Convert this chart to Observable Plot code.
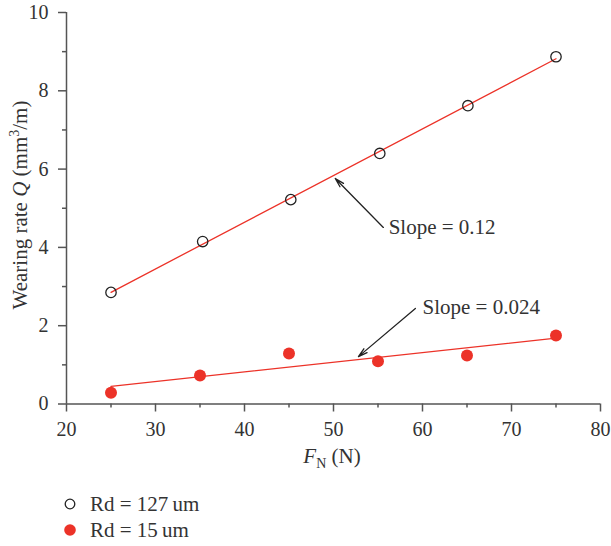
<!DOCTYPE html>
<html>
<head>
<meta charset="utf-8">
<script src="https://cdn.jsdelivr.net/npm/d3@7"></script>
<script src="https://cdn.jsdelivr.net/npm/@observablehq/plot@0.6"></script>
<style>
  body { margin: 0; background: #fff; font-family: "Liberation Serif", serif; }
  #chart { position: relative; width: 611px; height: 546px; }
  .legend { position: absolute; left: 64px; top: 491px; font-size: 21px; color: #333; line-height: 26px; }
  .legend .row { display: flex; align-items: center; height: 26px; }
  .legend svg { margin-right: 14px; }
</style>
</head>
<body>
<div id="chart"></div>
<script>
// Normal load F_N (N)
const loads = [25, 35.3, 45.2, 55.2, 65.1, 75];
const loadsSmall = [25, 35, 45, 55, 65, 75];
// Wearing rate Q (mm^3/m) per surface roughness
const rd127 = [2.85, 4.15, 5.22, 6.40, 7.62, 8.87];
const rd15 = [0.29, 0.73, 1.29, 1.09, 1.24, 1.75];

const xMajor = [20, 30, 40, 50, 60, 70, 80];
const xMinor = [25, 35, 45, 55, 65, 75];
const yMajor = [0, 2, 4, 6, 8, 10];
const yMinor = [1, 3, 5, 7, 9];

// Slope annotations: label anchor, arrow tail and arrow tip, in data units
const slopeLabels = ["Slope = 0.12", "Slope = 0.024"];
const labelX = [56.2, 60.0];
const labelY = [4.51, 2.46];
const tailX = [55.6, 59.2];
const tailY = [4.51, 2.44];
const tipX = [50.2, 52.8];
const tipY = [5.76, 1.21];

const red = "#ec3228";
const axisColor = "#555";
const textColor = "#333";

const a = loads.map((x, i) => ({x, y: rd127[i]}));
const b = loadsSmall.map((x, i) => ({x, y: rd15[i]}));
const notes = slopeLabels.map((t, i) => ({
  t, lx: labelX[i], ly: labelY[i], x1: tailX[i], y1: tailY[i], x2: tipX[i], y2: tipY[i]
}));

const plot = Plot.plot({
  width: 611,
  height: 476,
  marginLeft: 66,
  marginRight: 11,
  marginTop: 12,
  marginBottom: 72.5,
  style: {fontFamily: "Liberation Serif, serif", fontSize: "20px", color: textColor, background: "#fff"},
  x: {domain: [20, 80], label: null},
  y: {domain: [0, 10], label: null},
  marks: [
    Plot.axisX(xMajor, {tickSize: 8, tickPadding: 10, stroke: axisColor, strokeWidth: 1.5, fill: textColor, fontSize: 20, label: null}),
    Plot.axisX(xMinor, {tickSize: 4, tickFormat: () => "", stroke: axisColor, strokeWidth: 1.5, label: null}),
    Plot.axisY(yMajor, {tickSize: 8, tickPadding: 10, stroke: axisColor, strokeWidth: 1.5, fill: textColor, fontSize: 20, label: null}),
    Plot.axisY(yMinor, {tickSize: 4, tickFormat: () => "", stroke: axisColor, strokeWidth: 1.5, label: null}),
    Plot.ruleX([20], {stroke: axisColor, strokeWidth: 1.5}),
    Plot.ruleY([0], {stroke: axisColor, strokeWidth: 1.5}),
    Plot.linearRegressionY(a, {x: "x", y: "y", ci: 0, stroke: red, strokeWidth: 1.3}),
    Plot.linearRegressionY(b, {x: "x", y: "y", ci: 0, stroke: red, strokeWidth: 1.3}),
    Plot.dot(a, {x: "x", y: "y", r: 5.2, stroke: "#222", strokeWidth: 1.3, fill: "none"}),
    Plot.dot(b, {x: "x", y: "y", r: 6, fill: red}),
    Plot.arrow(notes, {x1: "x1", y1: "y1", x2: "x2", y2: "y2", stroke: "#222", strokeWidth: 1.3, headLength: 11, headAngle: 30}),
    Plot.text(notes, {x: "lx", y: "ly", text: "t", textAnchor: "start", fontSize: 21, fill: textColor})
  ]
});

const svg = d3.select(plot);
// Axis titles with italic symbols, sub- and superscripts
const xt = svg.append("text")
  .attr("x", 332).attr("y", 463)
  .attr("text-anchor", "middle")
  .attr("fill", textColor).attr("font-size", 21);
xt.append("tspan").attr("font-style", "italic").text("F");
xt.append("tspan").attr("font-size", 14).attr("dy", 5).text("N");
xt.append("tspan").attr("dy", -5).text(" (N)");

const yt = svg.append("text")
  .attr("transform", "translate(27,205) rotate(-90)")
  .attr("text-anchor", "middle")
  .attr("fill", textColor).attr("font-size", 21);
yt.append("tspan").text("Wearing rate ");
yt.append("tspan").attr("font-style", "italic").text("Q");
yt.append("tspan").text(" (mm");
yt.append("tspan").attr("font-size", 14).attr("dy", -8).text("3");
yt.append("tspan").attr("dy", 8).text("/m)");

const chart = document.getElementById("chart");
plot.style.position = "absolute";
plot.style.left = "0";
plot.style.top = "0";
chart.appendChild(plot);

// Legend below the plot
const legend = document.createElement("div");
legend.className = "legend";
legend.innerHTML = `
  <div class="row"><svg width="12" height="12"><circle cx="6" cy="6" r="4.8" fill="none" stroke="#222" stroke-width="1.3"/></svg>Rd = 127\u2009um</div>
  <div class="row"><svg width="12" height="12"><circle cx="6" cy="6" r="5.8" fill="${red}"/></svg>Rd = 15\u2009um</div>`;
chart.appendChild(legend);
</script>
</body>
</html>
